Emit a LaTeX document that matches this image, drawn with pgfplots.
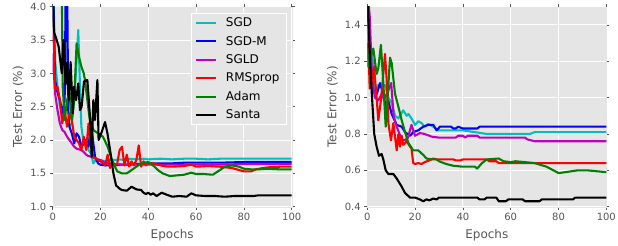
\documentclass[border=0pt]{standalone}
\usepackage{fontspec}
\setmainfont{DejaVu Sans}
\usepackage{pgfplots}
\pgfplotsset{compat=1.18}
\definecolor{bg}{HTML}{E5E5E5}
\definecolor{lab}{HTML}{555555}
\definecolor{cC}{rgb}{0,0.75,0.75}
\definecolor{cB}{rgb}{0,0,1}
\definecolor{cM}{rgb}{0.75,0,0.75}
\definecolor{cR}{rgb}{1,0,0}
\definecolor{cG}{rgb}{0,0.5,0}
\definecolor{cK}{rgb}{0,0,0}
\pgfplotsset{
  base/.style={
    width=239pt, height=200pt, scale only axis,
    axis background/.style={fill=bg},
    axis line style={bg, line width=0.1pt},
    grid=major, major grid style={white, line width=1pt},
    tick align=outside, xtick pos=both, ytick pos=both,
    major tick length=3pt,
    tick style={lab, line width=0.6pt},
    /pgf/number format/assume math mode=true,
    ticklabel style={font=\fontsize{10}{12}\selectfont, text=lab},
    label style={font=\fontsize{12}{14}\selectfont, text=lab},
    xlabel style={yshift=-2pt},
    xmin=0, xmax=100, xtick={0,20,...,100},
    xlabel={Epochs}, ylabel={Test Error (\%)},
    yticklabel style={/pgf/number format/.cd, fixed, fixed zerofill, precision=1},
  },
  pl/.style={line width=2.1pt, line join=round, mark=none, #1},
}
\begin{document}
\begin{tikzpicture}[x=1pt,y=1pt]
\useasboundingbox (0,0) rectangle (618,246);
\begin{axis}[base, at={(52.7pt,39.3pt)}, anchor=south west,
  ymin=1, ymax=4, ytick={1,1.5,...,4},
  legend style={at={(1,1)}, anchor=north east, xshift=-4.7pt, yshift=-6pt,
    fill=bg, draw=white, line width=1pt, font=\fontsize{12}{13}\selectfont,
    row sep=6pt, inner sep=3.5pt, nodes={inner xsep=3.5pt, inner ysep=1pt},
    column sep=5pt},
  legend cell align=left,
  legend image code/.code={\draw[#1] (0pt,0pt) -- (20pt,0pt);},
]
\addplot[pl=cC] coordinates {(0,4.6)(1,3.2)(2,2.8)(3,2.5)(4,2.4)(5,2.35)(6,2.25)(7,2.2)(8,2.25)(9,2.6)(10,3.2)(10.7,3.65)(11.5,2.7)(12,2.2)(13,1.95)(14,2.0)(15,1.85)(16,1.8)(17,1.65)(18,1.7)(19,1.68)(20,1.7)(22,1.68)(24,1.7)(26,1.7)(28,1.71)(30,1.7)(32,1.72)(35,1.71)(38,1.72)(40,1.71)(45,1.72)(50,1.71)(55,1.72)(60,1.72)(65,1.71)(70,1.72)(75,1.72)(80,1.72)(85,1.72)(90,1.72)(95,1.72)(100,1.72)};
\addlegendentry{SGD}
\addplot[pl=cB] coordinates {(0,4.5)(1,2.9)(1.7,2.75)(3,2.6)(4.2,2.4)(5,2.6)(5.5,4.5)(6,4.5)(6.5,2.45)(7,2.2)(8,2.1)(9,1.95)(10,2.1)(11,2.05)(12,1.9)(13,1.95)(14,2.0)(15,1.9)(16,2.25)(17,1.95)(17.7,1.75)(19,1.65)(20,1.63)(22,1.62)(24,1.62)(26,1.62)(28,1.63)(30,1.63)(35,1.64)(40,1.65)(45,1.65)(50,1.65)(55,1.66)(60,1.66)(70,1.66)(80,1.67)(90,1.67)(100,1.67)};
\addlegendentry{SGD-M}
\addplot[pl=cM] coordinates {(0,3.3)(1,2.7)(2,2.45)(3,2.25)(4,2.15)(5,2.12)(6,2.05)(7,2.0)(8,1.95)(9,1.9)(10,1.87)(11,1.86)(12,1.85)(13,1.82)(14,1.78)(15,1.76)(16,1.75)(17,1.74)(18,1.72)(19,1.71)(20,1.7)(22,1.66)(25,1.64)(30,1.63)(40,1.63)(50,1.63)(60,1.63)(70,1.63)(80,1.64)(90,1.64)(100,1.64)};
\addlegendentry{SGLD}
\addplot[pl=cR] coordinates {(0,3.6)(0.5,3.45)(1,2.75)(2,2.8)(3,2.6)(4,2.25)(5,2.45)(6,2.2)(7,2.4)(8,2.3)(9,2.05)(10,2.0)(11,1.95)(12,1.85)(13,2.05)(14,1.85)(15,2.25)(16,1.9)(17,1.75)(18,1.72)(19,1.7)(20,1.68)(21,1.65)(22,1.62)(23,1.78)(24,1.58)(25,1.68)(26,1.62)(27,1.65)(28,1.85)(29,1.9)(30,1.62)(31,1.78)(32,1.6)(33,1.68)(34,1.62)(35,1.7)(36,1.92)(37,1.6)(38,1.68)(39,1.62)(40,1.66)(42,1.65)(45,1.62)(48,1.6)(50,1.6)(55,1.61)(58,1.63)(60,1.6)(65,1.61)(70,1.6)(75,1.58)(78,1.55)(80,1.53)(83,1.53)(85,1.56)(88,1.58)(90,1.59)(95,1.6)(100,1.6)};
\addlegendentry{RMSprop}
\addplot[pl=cG] coordinates {(0,4.5)(3,4.5)(3.8,4.3)(4.2,2.8)(5,2.3)(6,2.6)(7,2.7)(8,2.3)(9,2.6)(10,3.45)(11,3.25)(12,3.1)(13,3.0)(13.5,2.9)(14.5,2.6)(15.5,2.3)(17,2.15)(19,2.1)(21,2.05)(23,1.9)(25,1.68)(27,1.53)(29,1.5)(31,1.5)(33,1.55)(35,1.6)(37,1.65)(40,1.67)(42,1.62)(44,1.55)(46,1.5)(49,1.46)(52,1.47)(55,1.48)(58,1.51)(60,1.49)(63,1.49)(67,1.48)(70,1.55)(72,1.6)(75,1.62)(78,1.6)(80,1.57)(83,1.56)(86,1.56)(90,1.57)(95,1.56)(100,1.56)};
\addlegendentry{Adam}
\addplot[pl=cK] coordinates {(0,4.5)(0.5,3.62)(1.5,3.52)(2.5,3.4)(3.8,3.0)(4.5,3.5)(5.4,2.83)(6.1,3.17)(6.8,2.6)(7.5,3.17)(8.4,2.4)(8.9,2.8)(9.8,2.6)(10.7,2.85)(11.4,2.45)(12.1,2.5)(13.1,2.88)(14.5,2.9)(15.6,2.35)(16.3,1.75)(17,2.6)(17.7,2.3)(18.7,2.9)(19.2,2.0)(20.5,2.12)(21.9,2.27)(22.9,2.1)(24,1.85)(25.4,1.5)(26.5,1.32)(28,1.27)(29,1.25)(31,1.24)(33,1.3)(35,1.26)(37,1.25)(38,1.21)(39,1.19)(40,1.21)(41,1.18)(42,1.2)(43.5,1.16)(45.6,1.21)(47.7,1.18)(50,1.15)(53,1.16)(56,1.15)(58,1.2)(60,1.17)(64,1.16)(68,1.16)(72,1.15)(76,1.16)(84,1.16)(86,1.17)(88,1.17)(100,1.17)};
\addlegendentry{Santa}
\end{axis}
\begin{axis}[base, at={(367.3pt,39.3pt)}, anchor=south west,
  ymin=0.4, ymax=1.5, ytick={0.4,0.6,...,1.41}]
\addplot[pl=cC] coordinates {(0,1.6)(1,1.3)(1.8,1.22)(2.5,1.2)(3.2,1.04)(4.6,1.07)(6,1.06)(7.4,1.07)(8.8,1.0)(10.2,0.97)(11.6,0.9)(13,0.885)(15,0.93)(16.5,0.9)(17.2,0.91)(18.5,0.885)(20,0.85)(21.3,0.87)(22.7,0.86)(24,0.84)(25.5,0.855)(27.6,0.84)(29.7,0.82)(35,0.82)(40,0.82)(45,0.81)(50,0.80)(60,0.80)(68,0.80)(70,0.81)(100,0.81)};
\addplot[pl=cB] coordinates {(0,1.6)(1,1.3)(2,1.1)(2.5,1.03)(4,1.02)(5.3,1.08)(6.7,1.02)(7.7,0.95)(8.8,0.98)(10.2,0.91)(12.3,0.85)(14.4,0.84)(15.8,0.81)(17.9,0.79)(19.2,0.81)(21.3,0.82)(23.4,0.84)(25.5,0.85)(27.6,0.85)(29,0.82)(30.4,0.84)(35,0.84)(36,0.83)(37,0.83)(38,0.84)(40,0.83)(46,0.83)(47,0.84)(100,0.84)};
\addplot[pl=cM] coordinates {(0,1.6)(1,1.45)(2,1.1)(3.2,1.0)(4.6,0.985)(6,1.02)(7,0.99)(8.8,1.04)(10,1.08)(11,0.9)(12.3,0.84)(13.5,0.8)(14.5,0.77)(15.8,0.765)(17,0.78)(18.5,0.85)(20,0.79)(22,0.805)(24,0.8)(27,0.785)(30,0.78)(37,0.78)(38,0.79)(40,0.79)(41,0.78)(42,0.79)(46,0.79)(47,0.78)(66,0.78)(67,0.77)(70,0.76)(100,0.76)};
\addplot[pl=cR] coordinates {(0,1.5)(1,1.05)(2,1.08)(2.8,1.17)(3.9,1.0)(4.6,0.875)(5.7,0.985)(6.7,1.13)(7.4,1.24)(8.1,1.1)(8.8,0.86)(9.9,0.765)(10.9,0.86)(11.6,0.785)(12.3,0.71)(13,0.8)(13.7,0.73)(14.4,0.79)(15,0.74)(16.5,0.76)(17.9,0.73)(18.5,0.72)(19.2,0.64)(20,0.635)(21.3,0.64)(22.7,0.635)(24,0.645)(26,0.655)(27.6,0.665)(29,0.66)(36,0.66)(37,0.655)(39,0.655)(40,0.66)(50,0.66)(51,0.65)(54,0.65)(55,0.64)(100,0.64)};
\addplot[pl=cG] coordinates {(0,1.3)(0.4,1.17)(1.1,1.2)(2.5,1.27)(3.9,1.13)(4.6,1.16)(5.7,1.29)(6.7,1.08)(7.7,0.84)(8.5,1.0)(9.5,1.22)(10.2,1.19)(11.6,1.02)(13,0.95)(14.4,0.875)(15.8,0.81)(17.2,0.75)(19.2,0.71)(21.3,0.71)(23.4,0.685)(24.8,0.665)(26.9,0.66)(29,0.66)(30,0.65)(33,0.635)(36,0.625)(40,0.62)(45,0.62)(46,0.61)(48,0.64)(50,0.66)(55,0.665)(57,0.65)(60,0.645)(62,0.65)(66,0.645)(70,0.64)(75,0.62)(80,0.585)(83,0.59)(88,0.6)(92,0.6)(96,0.595)(100,0.59)};
\addplot[pl=cK] coordinates {(0,1.6)(1.1,1.22)(1.8,1.04)(2.9,0.8)(3.9,0.73)(4.9,0.68)(6,0.69)(6.7,0.66)(7.7,0.6)(8.8,0.58)(10.9,0.58)(12.3,0.555)(14.4,0.51)(15.8,0.475)(17.9,0.45)(20,0.45)(22,0.44)(23.4,0.43)(24.8,0.44)(26,0.435)(27.6,0.445)(29,0.44)(30,0.45)(46,0.45)(47,0.44)(49,0.44)(50,0.45)(54,0.45)(55,0.43)(58,0.43)(59,0.44)(65,0.44)(66,0.43)(72,0.43)(73,0.44)(86,0.44)(87,0.45)(100,0.45)};
\end{axis}
\end{tikzpicture}
\end{document}
